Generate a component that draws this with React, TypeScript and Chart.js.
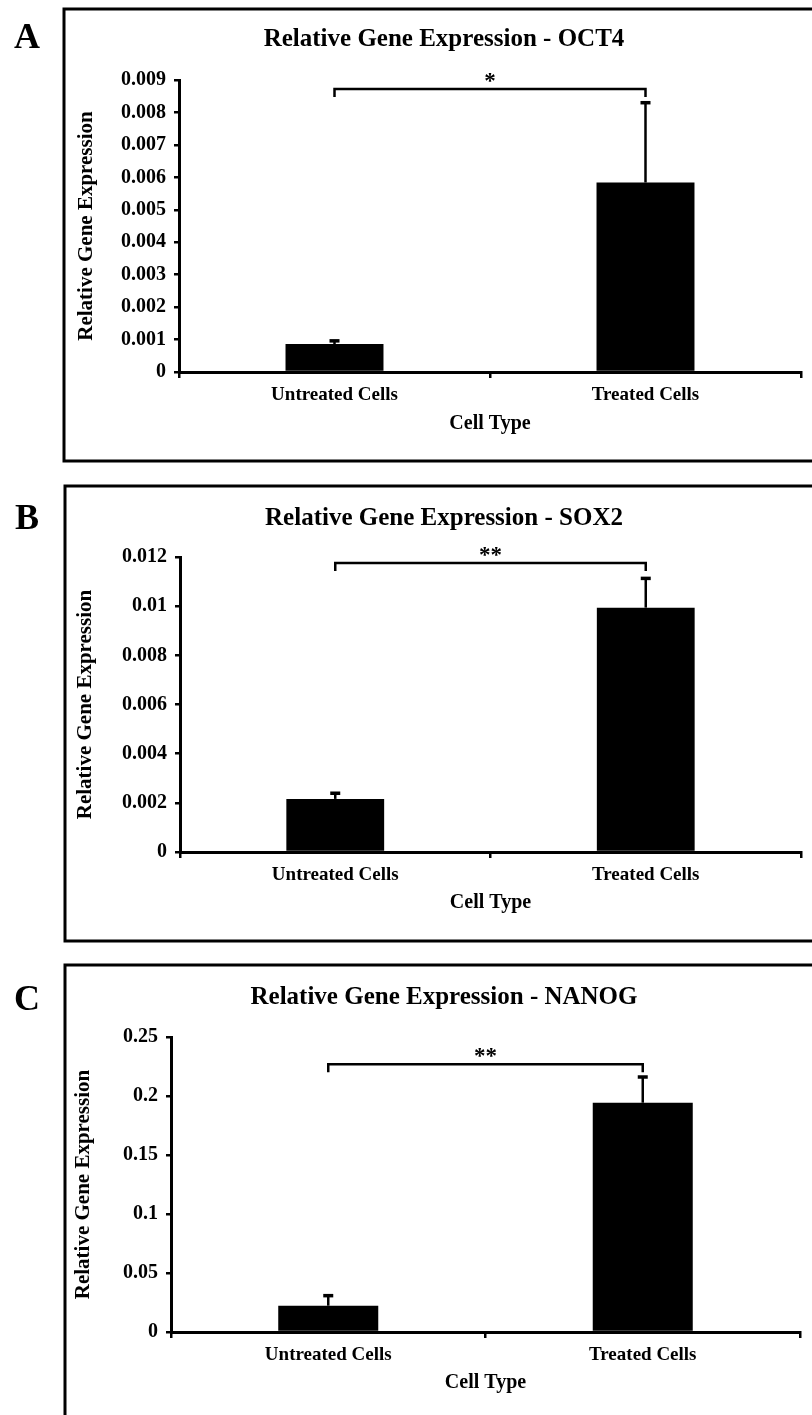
import React, { useEffect, useRef } from 'react';
import { Chart, registerables } from 'chart.js';

Chart.register(...registerables);

const FONT = "'Liberation Serif', 'Times New Roman', Times, serif";

// ---------- data ----------
const categories = ['Untreated Cells', 'Treated Cells'];

const oct4Values = [0.00086, 0.00584];
const oct4Errors = [0.0001, 0.00246];
const oct4Ticks = [0, 0.001, 0.002, 0.003, 0.004, 0.005, 0.006, 0.007, 0.008, 0.009];
const oct4Bracket = 0.00872;
const oct4Stars = '*';

const sox2Values = [0.00216, 0.00994];
const sox2Errors = [0.00023, 0.00119];
const sox2Ticks = [0, 0.002, 0.004, 0.006, 0.008, 0.01, 0.012];
const sox2Bracket = 0.01176;
const sox2Stars = '**';

const nanogValues = [0.0223, 0.1943];
const nanogErrors = [0.0085, 0.0218];
const nanogTicks = [0, 0.05, 0.1, 0.15, 0.2, 0.25];
const nanogBracket = 0.227;
const nanogStars = '**';

const panelLetters = ['A', 'B', 'C'];
const panelTitles = [
  'Relative Gene Expression - OCT4',
  'Relative Gene Expression - SOX2',
  'Relative Gene Expression - NANOG',
];
const xAxisTitle = 'Cell Type';
const yAxisTitle = 'Relative Gene Expression';

const panelData = [
  { values: oct4Values, errors: oct4Errors, ticks: oct4Ticks, bracket: oct4Bracket, stars: oct4Stars },
  { values: sox2Values, errors: sox2Errors, ticks: sox2Ticks, bracket: sox2Bracket, stars: sox2Stars },
  { values: nanogValues, errors: nanogErrors, ticks: nanogTicks, bracket: nanogBracket, stars: nanogStars },
];

// ---------- layout (positions / sizes) ----------
const W = 812;
const layouts = [
  { top: 0, height: 470, plotTop: 80, plotBottom: 372, plotLeft: 179, plotRight: 801, boxLeft: 64, boxTop: 9, boxBottom: 461, titleY: 40, letterY: 39, yTitleX: 87, barPct: 0.315, xTitleGap: 34 },
  { top: 470, height: 480, plotTop: 87, plotBottom: 382, plotLeft: 180, plotRight: 801, boxLeft: 65, boxTop: 16, boxBottom: 471, titleY: 49, letterY: 50, yTitleX: 86, barPct: 0.315, xTitleGap: 35 },
  { top: 950, height: 465, plotTop: 87, plotBottom: 382, plotLeft: 171, plotRight: 800, boxLeft: 65, boxTop: 15, boxBottom: 490, titleY: 48, letterY: 51, yTitleX: 84, barPct: 0.318, xTitleGap: 20 },
];

const fmt = (v: number) => {
  const n = Number(v.toFixed(6));
  return n === 0 ? '0' : String(n);
};

function makeDecor(idx: number) {
  const L = layouts[idx];
  const D = panelData[idx];
  return {
    id: 'panelDecor' + idx,
    afterDraw(chart: any) {
      const ctx = chart.ctx as CanvasRenderingContext2D;
      const ys = chart.scales.y;
      const meta = chart.getDatasetMeta(0);
      ctx.save();
      ctx.strokeStyle = '#000';
      ctx.fillStyle = '#000';

      // frame (right side cut off)
      ctx.lineWidth = 3;
      ctx.beginPath();
      ctx.moveTo(chart.width + 5, L.boxTop);
      ctx.lineTo(L.boxLeft, L.boxTop);
      ctx.lineTo(L.boxLeft, L.boxBottom);
      ctx.lineTo(chart.width + 5, L.boxBottom);
      ctx.stroke();

      // panel letter
      ctx.textAlign = 'center';
      ctx.textBaseline = 'middle';
      ctx.font = `bold 36px ${FONT}`;
      ctx.fillText(panelLetters[idx], 27, L.letterY);

      // title
      ctx.font = `bold 25px ${FONT}`;
      ctx.fillText(panelTitles[idx], 444, L.titleY);

      // error bars (upper only)
      meta.data.forEach((bar: any, i: number) => {
        const x = bar.x;
        const yBase = ys.getPixelForValue(D.values[i]);
        const yTop = ys.getPixelForValue(D.values[i] + D.errors[i]);
        ctx.lineWidth = 2.5;
        ctx.beginPath();
        ctx.moveTo(x, yBase);
        ctx.lineTo(x, yTop);
        ctx.stroke();
        ctx.lineWidth = 3.5;
        ctx.beginPath();
        ctx.moveTo(x - 5, yTop);
        ctx.lineTo(x + 5, yTop);
        ctx.stroke();
      });

      // significance bracket
      const x0 = meta.data[0].x;
      const x1 = meta.data[1].x;
      const yb = ys.getPixelForValue(D.bracket);
      ctx.lineWidth = 2.5;
      ctx.beginPath();
      ctx.moveTo(x0, yb + 8);
      ctx.lineTo(x0, yb);
      ctx.lineTo(x1, yb);
      ctx.lineTo(x1, yb + 8);
      ctx.stroke();
      ctx.font = `bold 23px ${FONT}`;
      ctx.fillText(D.stars, (x0 + x1) / 2, yb - 7);

      ctx.restore();
    },
  };
}

function Panel({ idx }: { idx: number }) {
  const ref = useRef<HTMLCanvasElement>(null);
  useEffect(() => {
    const L = layouts[idx];
    const D = panelData[idx];
    const padLeft = L.yTitleX - 12.6 - 2;
    const chart = new Chart(ref.current as HTMLCanvasElement, {
      type: 'bar',
      data: {
        labels: categories,
        datasets: [
          {
            data: D.values,
            backgroundColor: '#000',
            borderWidth: 0,
            barPercentage: L.barPct,
            categoryPercentage: 1,
          },
        ],
      },
      options: {
        animation: false,
        responsive: false,
        devicePixelRatio: 1,
        events: [],
        layout: {
          padding: { left: padLeft, top: L.plotTop, right: W - L.plotRight, bottom: 0 },
        },
        plugins: {
          legend: { display: false },
          title: { display: false },
          tooltip: { enabled: false },
        },
        scales: {
          x: {
            type: 'category',
            offset: true,
            grid: {
              offset: true,
              drawOnChartArea: false,
              drawTicks: true,
              tickLength: 6,
              color: '#000',
              lineWidth: 2.5,
            },
            border: { display: true, color: '#000', width: 3 },
            ticks: {
              color: '#000',
              padding: 6,
              font: { family: FONT, size: 19, weight: 'bold' },
              maxRotation: 0,
            },
            title: {
              display: true,
              text: xAxisTitle,
              color: '#000',
              font: { family: FONT, size: 20, weight: 'bold' },
              padding: { top: 0, bottom: L.xTitleGap },
            },
            afterFit: (s: any) => {
              s.height = L.height - L.plotBottom;
            },
          },
          y: {
            type: 'linear',
            min: D.ticks[0],
            max: D.ticks[D.ticks.length - 1],
            afterBuildTicks: (s: any) => {
              s.ticks = D.ticks.map((v) => ({ value: v }));
            },
            grid: {
              drawOnChartArea: false,
              drawTicks: true,
              tickLength: 5,
              color: '#000',
              lineWidth: 2.5,
            },
            border: { display: true, color: '#000', width: 3 },
            ticks: {
              color: '#000',
              padding: 8,
              font: { family: FONT, size: 20, weight: 'bold' },
              callback: (v: any) => fmt(Number(v)),
            },
            title: {
              display: true,
              text: yAxisTitle,
              color: '#000',
              font: { family: FONT, size: 21, weight: 'bold' },
              padding: { top: 2, bottom: 0 },
            },
            afterFit: (s: any) => {
              s.width = L.plotLeft - padLeft;
            },
          },
        },
      } as any,
      plugins: [makeDecor(idx)],
    });
    return () => chart.destroy();
  }, [idx]);
  const L = layouts[idx];
  return (
    <canvas
      ref={ref}
      width={W}
      height={L.height}
      style={{ position: 'absolute', left: 0, top: L.top, width: W, height: L.height, display: 'block' }}
    />
  );
}

export default function App() {
  return (
    <div
      style={{
        position: 'absolute',
        left: 0,
        top: 0,
        width: W,
        height: 1415,
        overflow: 'hidden',
        background: '#fff',
      }}
    >
      <Panel idx={0} />
      <Panel idx={1} />
      <Panel idx={2} />
    </div>
  );
}
